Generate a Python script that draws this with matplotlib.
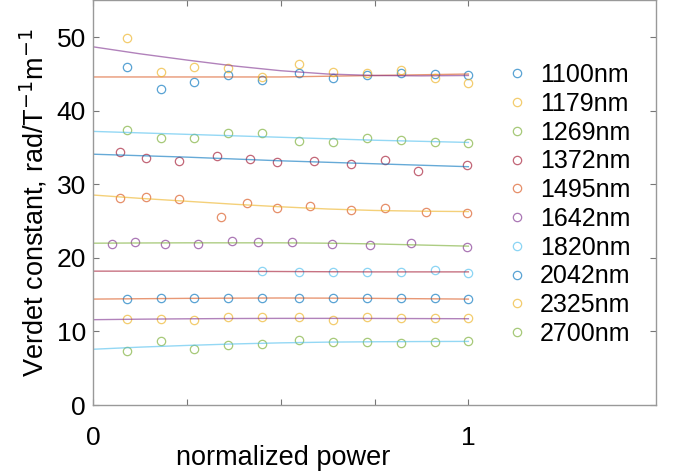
import matplotlib.pyplot as plt
import numpy as np

plt.rcParams['font.family'] = ['Liberation Sans', 'DejaVu Sans']

# matlab default colour order
blue = '#0072BD'
orange = '#D95319'
yellow = '#EDB120'
purple = '#7E2F8E'
green = '#77AC30'
lightblue = '#4DBEEE'
darkred = '#A2142F'

labels = ['1100nm', '1179nm', '1269nm', '1372nm', '1495nm',
          '1642nm', '1820nm', '2042nm', '2325nm', '2700nm']
marker_colors = [blue, yellow, green, darkred, orange, purple, lightblue, blue, yellow, green]
line_colors = [orange, purple, lightblue, blue, yellow, green, darkred, orange, purple, lightblue]

# x positions of the measurements
x_even = [0.09, 0.18, 0.27, 0.36, 0.45, 0.55, 0.64, 0.73, 0.82, 0.91, 1.0]
x_1372 = [0.071, 0.141, 0.23, 0.33, 0.419, 0.489, 0.588, 0.688, 0.777, 0.866, 0.996]
x_1495 = [0.071, 0.141, 0.23, 0.34, 0.409, 0.489, 0.577, 0.688, 0.777, 0.887, 0.996]
x_1642 = [0.05, 0.111, 0.191, 0.279, 0.369, 0.44, 0.529, 0.638, 0.738, 0.847, 0.996]
x_1820 = [0.45, 0.55, 0.64, 0.73, 0.82, 0.91, 1.0]

v_1100 = [45.9, 43.0, 43.9, 44.9, 44.2, 45.2, 44.4, 44.8, 45.2, 45.0, 44.8]
v_1179 = [49.9, 45.3, 45.9, 45.8, 44.6, 46.4, 45.3, 45.2, 45.6, 44.4, 43.8]
v_1269 = [37.4, 36.3, 36.3, 37.0, 37.0, 35.9, 35.7, 36.3, 36.0, 35.8, 35.6]
v_1372 = [34.4, 33.6, 33.2, 33.8, 33.5, 33.1, 33.2, 32.8, 33.3, 31.8, 32.6]
v_1495 = [28.2, 28.3, 28.0, 25.6, 27.4, 26.8, 27.1, 26.5, 26.8, 26.3, 26.1]
v_1642 = [21.9, 22.1, 21.9, 21.9, 22.3, 22.2, 22.1, 21.9, 21.8, 22.0, 21.5]
v_1820 = [18.2, 18.1, 18.1, 18.1, 18.1, 18.3, 18.0]
v_2042 = [14.4, 14.5, 14.6, 14.5, 14.6, 14.6, 14.6, 14.6, 14.5, 14.5, 14.4]
v_2325 = [11.7, 11.7, 11.5, 11.9, 12.0, 12.0, 11.5, 11.9, 11.8, 11.8, 11.8]
v_2700 = [7.4, 8.75, 7.6, 8.1, 8.3, 8.8, 8.6, 8.5, 8.4, 8.6, 8.7]

xs = [x_even, x_even, x_even, x_1372, x_1495, x_1642, x_1820, x_even, x_even, x_even]
vs = [v_1100, v_1179, v_1269, v_1372, v_1495, v_1642, v_1820, v_2042, v_2325, v_2700]

fit_x = [0, 0.125, 0.25, 0.375, 0.5, 0.625, 0.75, 0.875, 1.0]
fits = [
    [44.6, 44.6, 44.6, 44.6, 44.6, 44.7, 44.8, 44.9, 45.0],
    [48.7, 47.75, 46.9, 46.1, 45.45, 45.0, 44.8, 44.75, 44.8],
    [37.2, 37.0, 36.8, 36.6, 36.4, 36.2, 36.0, 35.85, 35.7],
    [34.1, 33.9, 33.7, 33.45, 33.2, 33.0, 32.8, 32.6, 32.4],
    [28.55, 28.1, 27.7, 27.3, 26.95, 26.65, 26.45, 26.35, 26.3],
    [22.0, 22.03, 22.05, 22.05, 22.05, 22.0, 21.9, 21.75, 21.6],
    [18.2, 18.2, 18.2, 18.18, 18.15, 18.12, 18.1, 18.1, 18.1],
    [14.4, 14.45, 14.5, 14.53, 14.55, 14.53, 14.5, 14.45, 14.4],
    [11.6, 11.67, 11.72, 11.76, 11.78, 11.78, 11.77, 11.75, 11.73],
    [7.58, 7.87, 8.1, 8.3, 8.45, 8.55, 8.6, 8.63, 8.65],
]

fig = plt.figure(figsize=(6.75, 4.71), dpi=100)
ax = fig.add_axes([0.1378, 0.1401, 0.9719 - 0.1378, 0.999 - 0.1401])

handles = []
for i in range(len(labels)):
    h, = ax.plot(xs[i], vs[i], 'o', mfc='none', mec=marker_colors[i], ms=6, mew=0.9,
                 alpha=0.65, label=labels[i])
    ax.plot(fit_x, fits[i], '-', color=line_colors[i], lw=1, alpha=0.6)
    handles.append(h)

ax.set_xlim(0, 1.5)
ax.set_ylim(0, 55)
ax.set_xticks([0, 0.25, 0.5, 0.75, 1])
ax.set_xticklabels(['0', '', '', '', '1'])
ax.set_yticks([0, 10, 20, 30, 40, 50])
ax.tick_params(direction='in', length=4, width=0.8, color='#777777', labelsize=19,
               top=True, right=True)
ax.tick_params(axis='x', pad=15)
ax.tick_params(axis='y', pad=5)
for s in ax.spines.values():
    s.set_color('#999999')
    s.set_linewidth(1)

ax.set_xlabel('normalized power', fontsize=19.5)
ax.xaxis.set_label_coords(0.337, -0.1)
ax.set_ylabel('Verdet constant, rad/T$^{-1}$m$^{-1}$', fontsize=19.5)
ax.yaxis.set_label_coords(-0.077, 0.5)

ax.legend(handles=handles, loc='center left', bbox_to_anchor=(0.748, 0.566),
          bbox_transform=fig.transFigure, frameon=False, fontsize=18,
          handlelength=1.0, handletextpad=0.4, labelspacing=0.19,
          borderpad=0, borderaxespad=0)

fig.savefig('out.png', dpi=100)
